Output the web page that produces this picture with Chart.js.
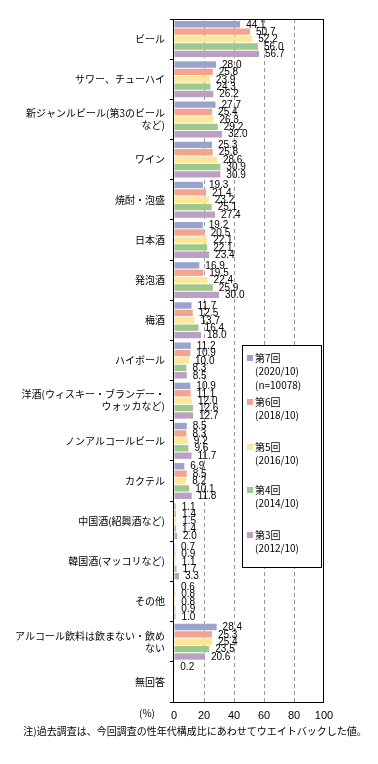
<!DOCTYPE html>
<html><head><meta charset="utf-8">
<script src="https://cdn.jsdelivr.net/npm/chart.js@4"></script>
<style>html,body{margin:0;padding:0;background:#fff;}#wrap{width:378px;height:764px;position:relative;}</style>
</head><body><div id="wrap"><canvas id="c" width="378" height="764"></canvas></div>
<script>
const categories = [
  'ビール', 'サワー、チューハイ', ['新ジャンルビール(第3のビール', 'など)'], 'ワイン', '焼酎・泡盛', '日本酒',
  '発泡酒', '梅酒', 'ハイボール', ['洋酒(ウィスキー・ブランデー・', 'ウォッカなど)'], 'ノンアルコールビール',
  'カクテル', '中国酒(紹興酒など)', '韓国酒(マッコリなど)', 'その他', ['アルコール飲料は飲まない・飲め', 'ない'], '無回答'
];
const seriesNames = ['第7回', '第6回', '第5回', '第4回', '第3回'];
const seriesSub = [['(2020/10)', '(n=10078)'], ['(2018/10)'], ['(2016/10)'], ['(2014/10)'], ['(2012/10)']];
const round7 = [44.1, 28.0, 27.7, 25.3, 19.3, 19.2, 16.9, 11.7, 11.2, 10.9, 8.5, 6.9, 1.1, 0.7, 0.6, 28.4, 0.2];
const round6 = [50.7, 25.8, 25.4, 25.8, 21.4, 20.5, 19.5, 12.5, 10.9, 11.1, 8.3, 8.5, 1.4, 0.9, 0.8, 25.3, null];
const round5 = [52.2, 23.9, 26.3, 28.6, 23.2, 22.1, 22.4, 13.7, 10.0, 12.0, 9.2, 8.2, 1.5, 1.1, 0.8, 25.4, null];
const round4 = [56.0, 24.3, 29.2, 30.9, 25.1, 22.1, 25.9, 16.4, 8.3, 12.6, 9.6, 10.1, 1.4, 1.7, 0.9, 23.5, null];
const round3 = [56.7, 26.2, 32.0, 30.9, 27.4, 23.4, 30.0, 18.0, 8.5, 12.7, 11.7, 11.8, 2.0, 3.3, 1.0, 20.6, null];
const xTicks = [0, 20, 40, 60, 80, 100];
const colors = ['#9ba3cc', '#f4a48e', '#ffe699', '#9dc98a', '#bca0c4'];
const allSeries = [round7, round6, round5, round4, round3];

const JP = "'Noto Sans CJK JP', 'Noto Sans', sans-serif";

const overlay = {
  id: 'overlay',
  afterDatasetsDraw(chart) {
    const ctx = chart.ctx;
    const a = chart.chartArea;
    ctx.save();
    // value labels
    ctx.font = "10px 'Liberation Sans', sans-serif";
    ctx.fillStyle = '#000';
    ctx.textAlign = 'left';
    ctx.textBaseline = 'middle';
    chart.data.datasets.forEach((ds, i) => {
      const meta = chart.getDatasetMeta(i);
      meta.data.forEach((bar, j) => {
        const v = ds.data[j];
        if (v === null || v === undefined) return;
        ctx.fillText(v.toFixed(1), bar.x + 6, bar.y + 0.5);
      });
    });
    // border box
    ctx.strokeStyle = '#000';
    ctx.lineWidth = 1;
    const l = Math.round(a.left) - 0.5, t = Math.round(a.top) + 0.5;
    const r = Math.round(a.right) - 0.5, b = Math.round(a.bottom) + 0.5;
    ctx.strokeRect(l, t, r - l, b - t);
    // legend box
    const lx = 242.5, ly = 345.5, lw = 79, lh = 222;
    ctx.fillStyle = '#fff';
    ctx.fillRect(lx, ly, lw, lh);
    ctx.strokeRect(lx, ly, lw, lh);
    const itemY = [358, 402, 447, 490, 535];
    ctx.font = "10px " + JP;
    ctx.textBaseline = 'middle';
    seriesNames.forEach((n, i) => {
      const y = itemY[i];
      ctx.fillStyle = colors[i];
      ctx.fillRect(247, y - 3, 6, 6);
      ctx.fillStyle = '#000';
      ctx.fillText(n, 255, y);
      seriesSub[i].forEach((s, k) => {
        ctx.fillText(s, 255, y + 13 + k * 14);
      });
    });
    // unit and note
    ctx.textAlign = 'center';
    ctx.font = "10px " + JP;
    ctx.fillText('(%)', 147, 713);
    ctx.fillText('注)過去調査は、今回調査の性年代構成比にあわせてウエイトバックした値。', 195, 731);
    ctx.restore();
  }
};

new Chart(document.getElementById('c'), {
  type: 'bar',
  data: {
    labels: categories,
    datasets: seriesNames.map((n, i) => ({
      label: n,
      data: allSeries[i],
      backgroundColor: colors[i],
      borderWidth: 0,
      categoryPercentage: 0.92,
      barPercentage: 0.86
    }))
  },
  options: {
    indexAxis: 'y',
    responsive: false,
    animation: false,
    devicePixelRatio: 1,
    layout: { padding: { top: 19, right: 54, bottom: 0, left: 0 } },
    plugins: { legend: { display: false }, tooltip: { enabled: false } },
    scales: {
      x: {
        min: 0, max: 100,
        afterBuildTicks: s => { s.ticks = xTicks.map(v => ({ value: v })); },
        afterFit: s => { s.height = 62; },
        ticks: { color: '#000', font: { size: 11, family: "'Liberation Sans', sans-serif" }, padding: 7, maxRotation: 0 },
        grid: {
          drawTicks: false,
          color: c => (c.tick && (c.tick.value === 0 || c.tick.value === 100)) ? 'rgba(0,0,0,0)' : '#999',
          lineWidth: 1
        },
        border: { display: false, dash: [4, 3] }
      },
      y: {
        afterFit: s => { s.width = 174; },
        ticks: { color: '#000', font: { size: 10, family: JP }, padding: 5, autoSkip: false },
        grid: { offset: true, drawOnChartArea: false, drawTicks: true, tickLength: 4, color: '#000' },
        border: { display: false }
      }
    }
  },
  plugins: [overlay]
});
</script></body></html>
